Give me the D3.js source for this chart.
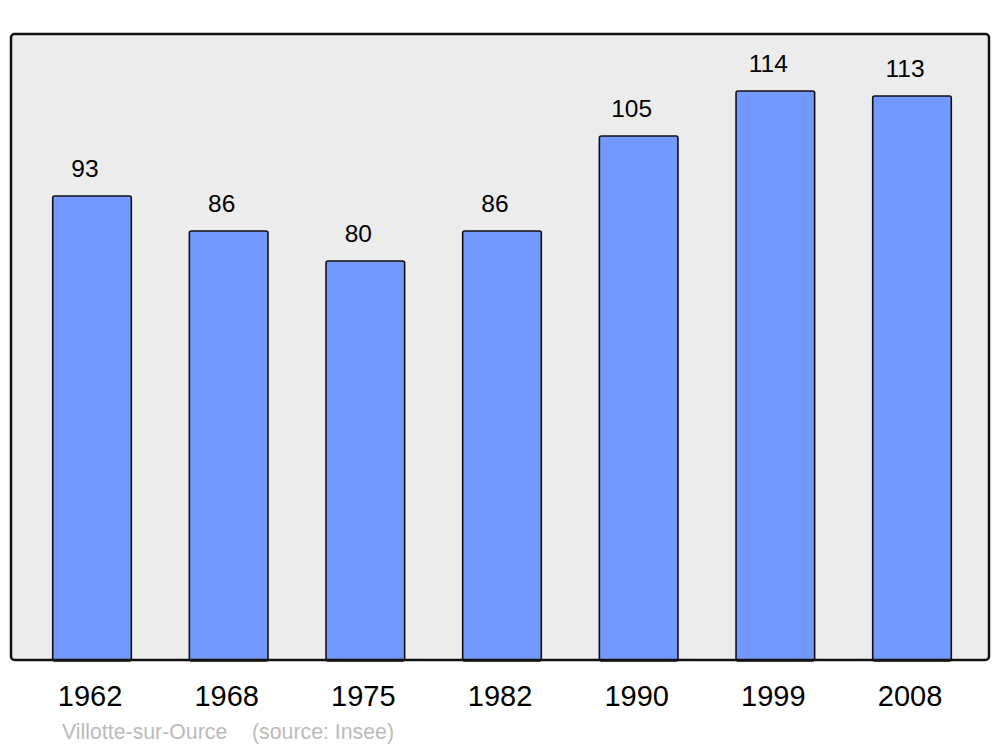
<!DOCTYPE html>
<html>
<head>
<meta charset="utf-8">
<script src="https://cdn.jsdelivr.net/npm/d3@7"></script>
<style>
  html, body { margin: 0; padding: 0; background: #ffffff; }
  svg { display: block; }
  text { font-family: "Liberation Sans", Arial, sans-serif; }
</style>
</head>
<body>
<svg id="chart" width="1000" height="747"></svg>
<script>
const years = ["1962", "1968", "1975", "1982", "1990", "1999", "2008"];
const population = [93, 86, 80, 86, 105, 114, 113];
const placeName = "Villotte-sur-Ource";
const sourceText = "(source: Insee)";

const svg = d3.select("#chart");

const frame = { x0: 11, y0: 34, x1: 989, y1: 660 };

const x = d3.scaleBand()
  .domain(years)
  .range([23.67, 980.33])
  .paddingInner(0.425)
  .paddingOuter(0.2125);

const y = d3.scaleLinear()
  .domain([0, 125])
  .range([661, 36]);

// plot background
svg.append("rect")
  .attr("x", frame.x0)
  .attr("y", frame.y0)
  .attr("width", frame.x1 - frame.x0)
  .attr("height", frame.y1 - frame.y0)
  .attr("rx", 3.5).attr("ry", 3.5)
  .attr("fill", "#ececec");

const data = years.map((yr, i) => ({ year: yr, value: population[i] }));

// bars
svg.append("g").selectAll("rect")
  .data(data)
  .join("rect")
  .attr("x", d => x(d.year))
  .attr("y", d => y(d.value))
  .attr("width", x.bandwidth())
  .attr("height", d => y(0) - y(d.value))
  .attr("rx", 2).attr("ry", 2)
  .attr("fill", "#7399ff")
  .attr("stroke", "#111")
  .attr("stroke-width", 1.6);

// frame border on top
svg.append("rect")
  .attr("x", frame.x0)
  .attr("y", frame.y0)
  .attr("width", frame.x1 - frame.x0)
  .attr("height", frame.y1 - frame.y0)
  .attr("rx", 3.5).attr("ry", 3.5)
  .attr("fill", "none")
  .attr("stroke", "#111")
  .attr("stroke-width", 2.5);

// value labels
svg.append("g").selectAll("text")
  .data(data)
  .join("text")
  .attr("x", d => x(d.year) + x.bandwidth() / 2 - 7)
  .attr("y", d => y(d.value) - 19.5)
  .attr("text-anchor", "middle")
  .attr("font-size", 24.5)
  .attr("fill", "#000")
  .text(d => d.value);

// x axis labels
const xAxis = d3.axisBottom(x).tickSize(0).tickPadding(0);
const gx = svg.append("g")
  .attr("transform", `translate(-2, ${frame.y1})`)
  .call(xAxis);
gx.select(".domain").remove();
gx.selectAll("text")
  .attr("dy", null)
  .attr("y", 45.5)
  .attr("font-size", 29)
  .attr("font-family", "Liberation Sans, Arial, sans-serif")
  .attr("fill", "#000");

// footer
svg.append("text")
  .attr("x", 62)
  .attr("y", 738.5)
  .attr("font-size", 21.3)
  .attr("fill", "#bbbbbb")
  .text(placeName);
svg.append("text")
  .attr("x", 252)
  .attr("y", 738.5)
  .attr("font-size", 21.3)
  .attr("fill", "#bbbbbb")
  .text(sourceText);
</script>
</body>
</html>
